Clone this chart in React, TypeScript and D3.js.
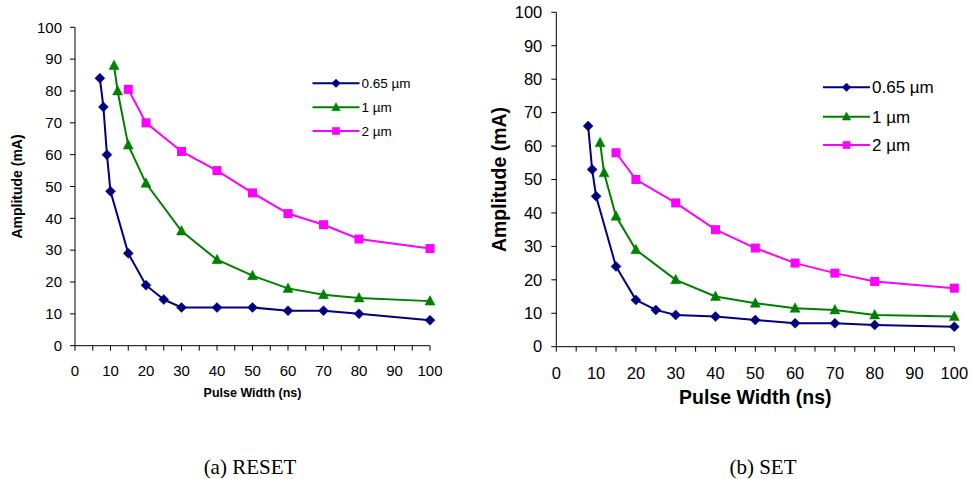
import React from "react";
import * as d3 from "d3";

const resetX065 = [7, 8, 9, 10, 15, 20, 25, 30, 40, 50, 60, 70, 80, 100];
const resetY065 = [84, 75, 60, 48.5, 29, 19, 14.5, 12, 12, 12, 11, 11, 10, 8];
const resetX1 = [11, 12, 15, 20, 30, 40, 50, 60, 70, 80, 100];
const resetY1 = [88, 80, 63, 51, 36, 27, 22, 18, 16, 15, 14];
const resetX2 = [15, 20, 30, 40, 50, 60, 70, 80, 100];
const resetY2 = [80.5, 70, 61, 55, 48, 41.5, 38, 33.5, 30.5];

const setX065 = [8, 9, 10, 15, 20, 25, 30, 40, 50, 60, 70, 80, 100];
const setY065 = [66, 53, 45, 24, 14, 11, 9.5, 9, 8, 7, 7, 6.5, 6];
const setX1 = [11, 12, 15, 20, 30, 40, 50, 60, 70, 80, 100];
const setY1 = [61, 52, 39, 29, 20, 15, 13, 11.5, 11, 9.5, 9];
const setX2 = [15, 20, 30, 40, 50, 60, 70, 80, 100];
const setY2 = [58, 50, 43, 35, 29.5, 25, 22, 19.5, 17.5];

const seriesNames = ["0.65 µm", "1 µm", "2 µm"];
const seriesColors = ["#000080", "#008000", "#FF00FF"];
const seriesShapes = ["diamond", "triangle", "square"];
const xTicks = [0, 10, 20, 30, 40, 50, 60, 70, 80, 90, 100];
const xMinorTicks = d3.range(0, 101, 5);
const yTicks = [0, 10, 20, 30, 40, 50, 60, 70, 80, 90, 100];

type Cfg = {
  x0: number; x1: number; y0: number; y1: number;
  tickFont: number; xLabelFont: number; yLabelFont: number; yLabelX: number; xLabelY: number;
  tickGap: number; xTickY: number;
  legX0: number; legX1: number; legYs: number[]; legFont: number;
  markerSize: number; caption: string; captionX: number;
  xs: number[][]; ys: number[][];
};

function Marker({ shape, x, y, size, color }: any) {
  const s = size / 2;
  if (shape === "diamond") {
    return <path d={`M${x},${y - s}L${x + s},${y}L${x},${y + s}L${x - s},${y}Z`} fill={color} stroke={color} strokeWidth={0.5} />;
  }
  if (shape === "triangle") {
    return <path d={`M${x},${y - s * 1.1}L${x + s},${y + s * 0.8}L${x - s},${y + s * 0.8}Z`} fill={color} stroke={color} strokeWidth={0.5} />;
  }
  return <rect x={x - s * 0.9} y={y - s * 0.9} width={s * 1.8} height={s * 1.8} fill={color} />;
}

function Panel({ c }: { c: Cfg }) {
  const x = d3.scaleLinear().domain([0, 100]).range([c.x0, c.x1]);
  const y = d3.scaleLinear().domain([0, 100]).range([c.y0, c.y1]);
  const line = d3.line<[number, number]>().x(d => x(d[0])).y(d => y(d[1]));
  const font = "'Liberation Sans', Arial, sans-serif";
  return (
    <g>
      <line x1={c.x0} x2={c.x0} y1={c.y0} y2={c.y1} stroke="#000" strokeWidth={1} />
      <line x1={c.x0} x2={c.x1} y1={c.y0} y2={c.y0} stroke="#000" strokeWidth={1} />
      {yTicks.map(t => (
        <g key={"y" + t}>
          <line x1={c.x0 - 5} x2={c.x0} y1={y(t)} y2={y(t)} stroke="#000" />
          <text x={c.x0 - c.tickGap} y={y(t)} dy="0.35em" textAnchor="end" fontSize={c.tickFont} fontFamily={font} fill="#000">{t}</text>
        </g>
      ))}
      {xMinorTicks.map(t => (
        <line key={"m" + t} x1={x(t)} x2={x(t)} y1={c.y0} y2={c.y0 + 5} stroke="#000" />
      ))}
      {xTicks.map(t => (
        <text key={"x" + t} x={x(t)} y={c.xTickY} textAnchor="middle" fontSize={c.tickFont} fontFamily={font} fill="#000">{t}</text>
      ))}
      <text x={(c.x0 + c.x1) / 2} y={c.xLabelY} textAnchor="middle" fontSize={c.xLabelFont} fontWeight="bold" fontFamily={font}>Pulse Width (ns)</text>
      <text transform={`translate(${c.yLabelX},${(c.y0 + c.y1) / 2}) rotate(-90)`} textAnchor="middle" fontSize={c.yLabelFont} fontWeight="bold" fontFamily={font} dy="0.35em">Amplitude (mA)</text>
      {c.xs.map((xs, i) => {
        const pts: [number, number][] = xs.map((v, j) => [v, c.ys[i][j]]);
        return (
          <g key={"s" + i}>
            <path d={line(pts) || ""} fill="none" stroke={seriesColors[i]} strokeWidth={2} />
            {pts.map((p, j) => (
              <Marker key={j} shape={seriesShapes[i]} x={x(p[0])} y={y(p[1])} size={c.markerSize} color={seriesColors[i]} />
            ))}
          </g>
        );
      })}
      {seriesNames.map((n, i) => (
        <g key={"l" + i}>
          <line x1={c.legX0} x2={c.legX1} y1={c.legYs[i]} y2={c.legYs[i]} stroke={seriesColors[i]} strokeWidth={2} />
          <Marker shape={seriesShapes[i]} x={(c.legX0 + c.legX1) / 2} y={c.legYs[i]} size={c.markerSize * 0.85} color={seriesColors[i]} />
          <text x={c.legX1 + 2} y={c.legYs[i]} dy="0.35em" fontSize={c.legFont} fontFamily={font}>{n}</text>
        </g>
      ))}
      <text x={c.captionX} y={474} textAnchor="middle" fontSize={21} fontFamily="'Liberation Serif', 'Times New Roman', serif">{c.caption}</text>
    </g>
  );
}

export default function App() {
  const left: Cfg = {
    x0: 75, x1: 430, y0: 345.7, y1: 27.3, tickFont: 15, xLabelFont: 12.5, yLabelFont: 14, yLabelX: 17, xLabelY: 397,
    tickGap: 13, xTickY: 375.5,
    legX0: 312.5, legX1: 359.5, legYs: [83.3, 107.3, 131], legFont: 13.5, markerSize: 10,
    caption: "(a) RESET", captionX: 250,
    xs: [resetX065, resetX1, resetX2], ys: [resetY065, resetY1, resetY2],
  };
  const right: Cfg = {
    x0: 556.3, x1: 954.3, y0: 346.7, y1: 12.3, tickFont: 16.5, xLabelFont: 19.5, yLabelFont: 19.5, yLabelX: 499, xLabelY: 404,
    tickGap: 14, xTickY: 379,
    legX0: 823, legX1: 870, legYs: [87.3, 116.7, 145], legFont: 17, markerSize: 10,
    caption: "(b) SET", captionX: 763,
    xs: [setX065, setX1, setX2], ys: [setY065, setY1, setY2],
  };
  return (
    <svg width={972} height={479} style={{ position: "absolute", left: 0, top: 0, background: "#fff" }}>
      <rect width={972} height={479} fill="#fff" />
      <Panel c={left} />
      <Panel c={right} />
    </svg>
  );
}
